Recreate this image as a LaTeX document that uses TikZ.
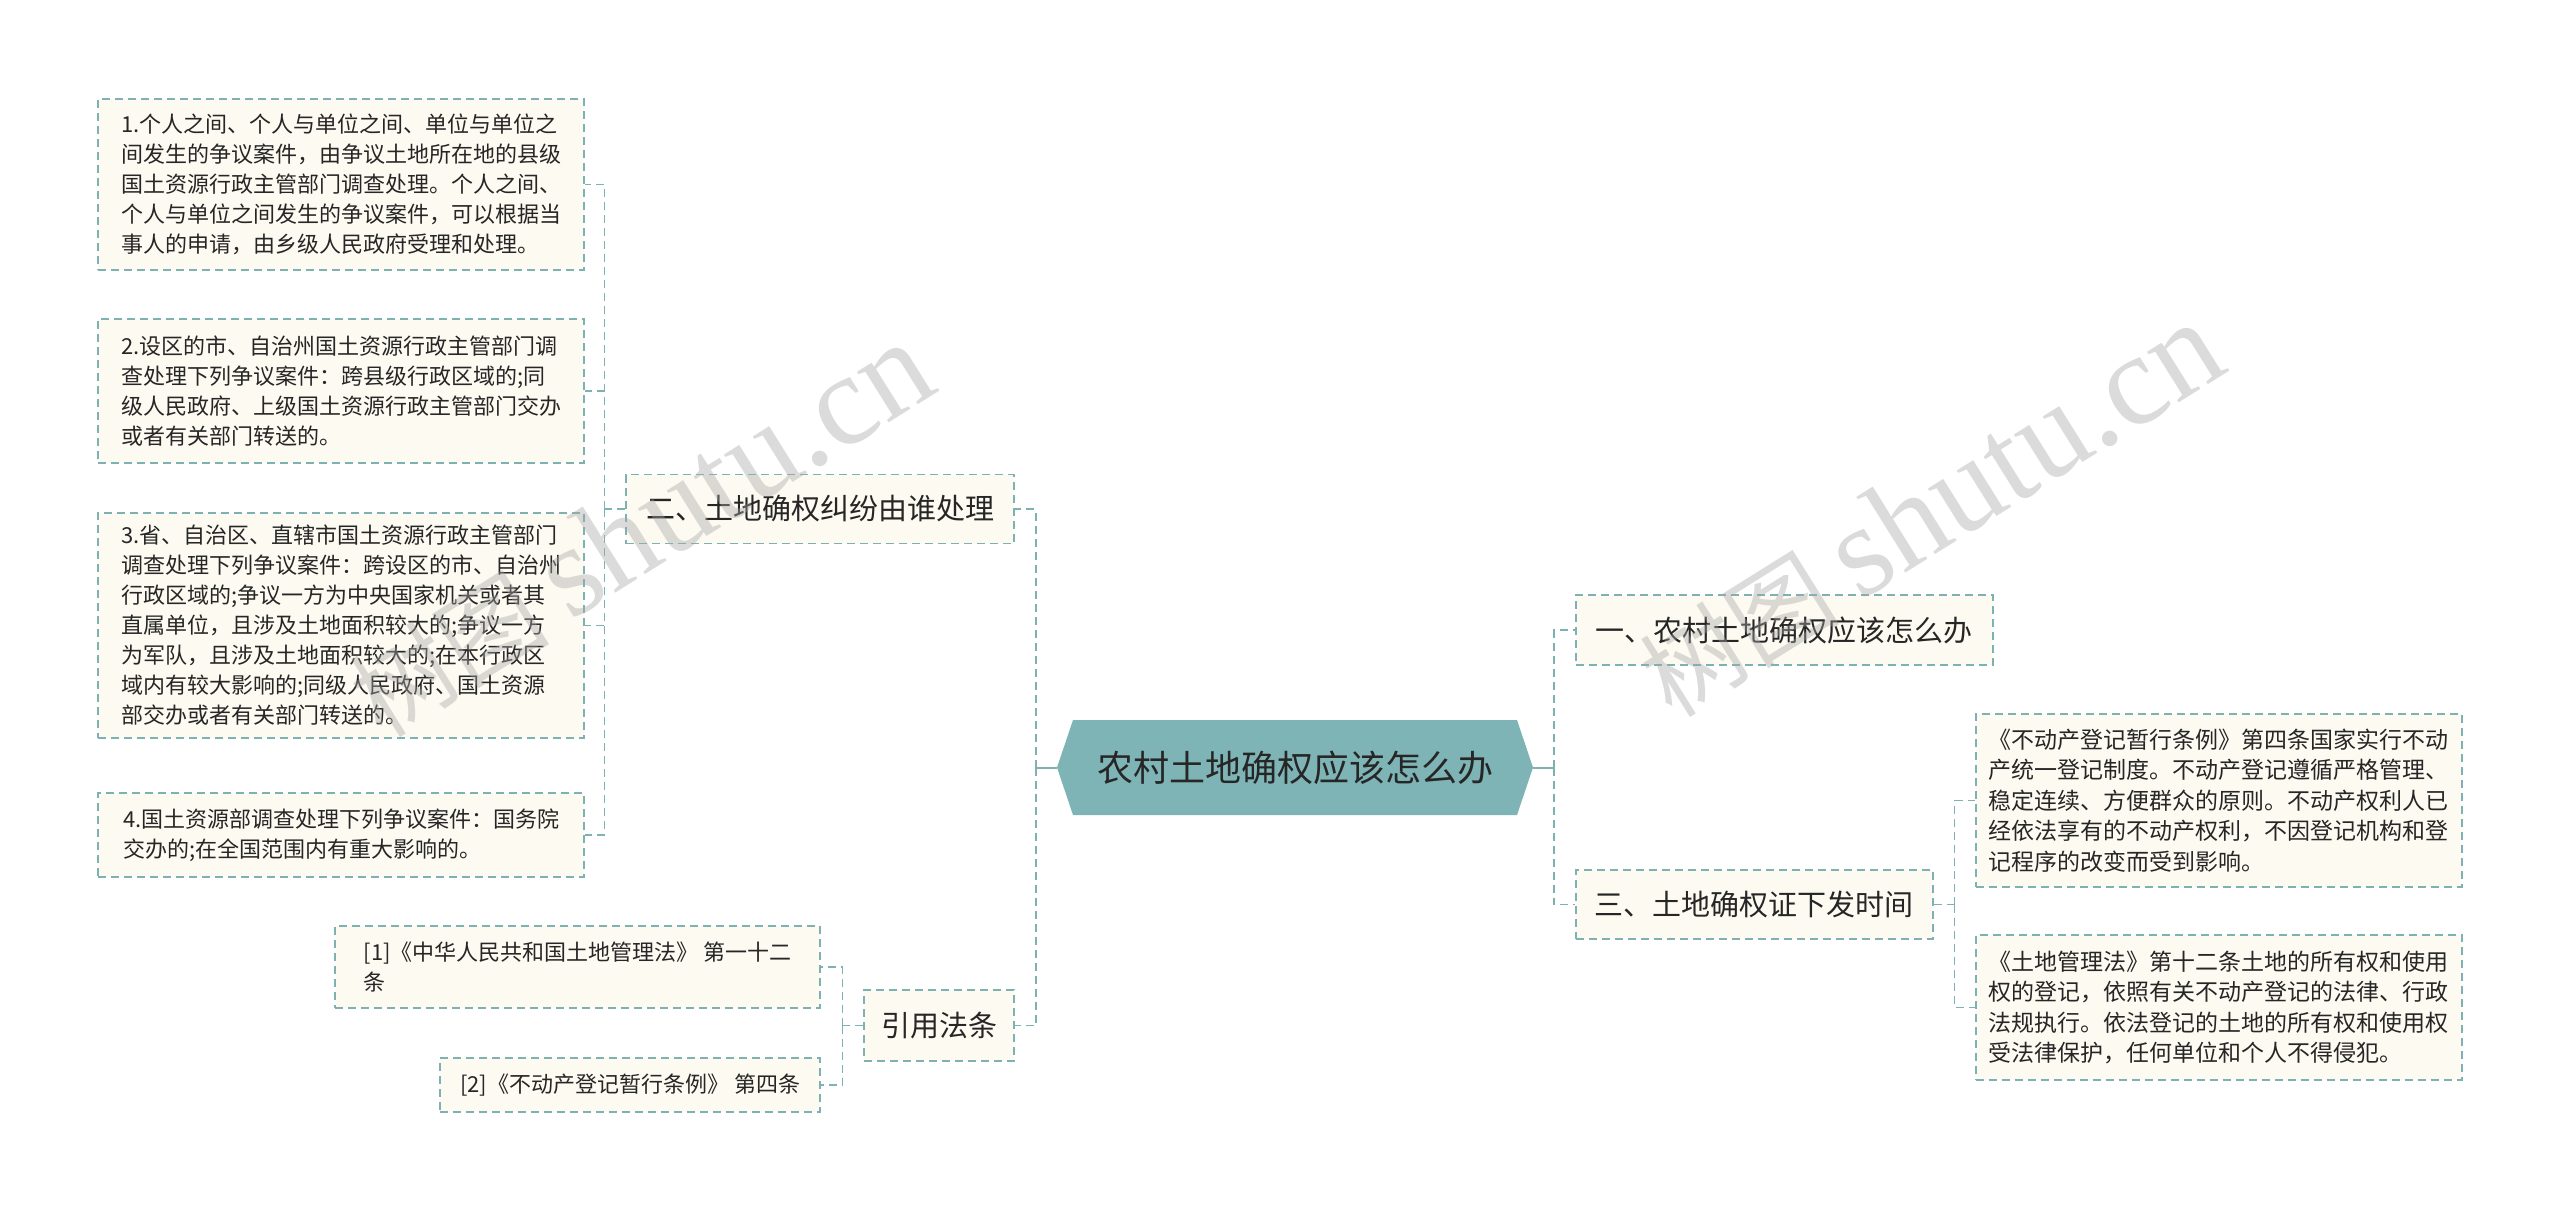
\documentclass[tikz,border=0pt]{standalone}
\usepackage{fontspec}
\setmainfont{Noto Sans CJK SC}
\newfontfamily\wmlatin{Liberation Serif}
\usepackage{tikz,xcolor}
\usetikzlibrary{positioning}
\definecolor{lineteal}{HTML}{7DB1B2}
\definecolor{hexfill}{HTML}{7EB4B5}
\definecolor{boxfill}{HTML}{FCFAF1}
\definecolor{txtdark}{HTML}{262626}

\begin{document}
\begin{tikzpicture}[x=1pt,y=-1pt,
  link/.style={draw=lineteal,line width=1.6pt,dash pattern=on 8pt off 5pt},
  stub/.style={draw=lineteal,line width=2pt},
  topic/.style={link,fill=boxfill,text=txtdark,font=\fontsize{29pt}{34pt}\selectfont,
    minimum height=69pt,inner xsep=16pt,inner ysep=0pt},
  leaf/.style={link,fill=boxfill,text=txtdark,font=\fontsize{22pt}{30pt}\selectfont,
    align=left,inner xsep=11pt,inner ysep=10pt},
  lawleaf/.style={leaf,font=\fontsize{23pt}{30.5pt}\selectfont},
  wmark/.style={text=black!35,opacity=0.4,rotate=32,font=\fontsize{100pt}{100pt}\selectfont}]
  \useasboundingbox[fill=white] (0,0) rectangle (2560,1209);

  \fill[hexfill] (1057,767.5) -- (1073,720) -- (1517,720) -- (1533,767.5) -- (1517,815) -- (1073,815) -- cycle;
  \node[minimum width=476pt,minimum height=95pt,inner sep=0pt,text=txtdark,
    font=\fontsize{36pt}{40pt}\selectfont] (root) at (1295,767.5) {农村土地确权应该怎么办};

  \node[topic,anchor=east,minimum width=388pt] (twoN) at (1015,509) {二、土地确权纠纷由谁处理};
  \node[topic,anchor=east,minimum width=150pt,minimum height=71pt] (citeN) at (1015,1025.5) {引用法条};
  \node[topic,anchor=west,minimum width=417pt,minimum height=70pt] (oneN) at (1575,630) {一、农村土地确权应该怎么办};
  \node[topic,anchor=west,minimum width=357pt] (threeN) at (1575,904.5) {三、土地确权证下发时间};

  \node[leaf,anchor=east,minimum width=486pt,minimum height=171pt] (qa) at (585,184.5) {1.个人之间、个人与单位之间、单位与单位之\\间发生的争议案件，由争议土地所在地的县级\\国土资源行政主管部门调查处理。个人之间、\\个人与单位之间发生的争议案件，可以根据当\\事人的申请，由乡级人民政府受理和处理。};
  \node[leaf,anchor=east,minimum width=486pt,minimum height=144pt] (qb) at (585,391) {2.设区的市、自治州国土资源行政主管部门调\\查处理下列争议案件：跨县级行政区域的;同\\级人民政府、上级国土资源行政主管部门交办\\或者有关部门转送的。};
  \node[leaf,anchor=east,minimum width=486pt,minimum height=225pt] (qc) at (585,625.5) {3.省、自治区、直辖市国土资源行政主管部门\\调查处理下列争议案件：跨设区的市、自治州\\行政区域的;争议一方为中央国家机关或者其\\直属单位，且涉及土地面积较大的;争议一方\\为军队，且涉及土地面积较大的;在本行政区\\域内有较大影响的;同级人民政府、国土资源\\部交办或者有关部门转送的。};
  \node[leaf,anchor=east,minimum width=486pt,minimum height=84pt] (qd) at (585,835) {4.国土资源部调查处理下列争议案件：国务院\\交办的;在全国范围内有重大影响的。};

  \node[leaf,anchor=east,minimum width=485pt,minimum height=82pt] (refa) at (821,967) {[1]《中华人民共和国土地管理法》 第一十二\\条};
  \node[leaf,anchor=east,minimum width=380pt,minimum height=54pt] (refb) at (821,1085) {[2]《不动产登记暂行条例》 第四条};

  \node[lawleaf,anchor=west,minimum width=486pt,minimum height=173pt] (lawa) at (1975,800.5) {《不动产登记暂行条例》第四条国家实行不动\\产统一登记制度。不动产登记遵循严格管理、\\稳定连续、方便群众的原则。不动产权利人已\\经依法享有的不动产权利，不因登记机构和登\\记程序的改变而受到影响。};
  \node[lawleaf,anchor=west,minimum width=486pt,minimum height=145pt] (lawb) at (1975,1007.5) {《土地管理法》第十二条土地的所有权和使用\\权的登记，依照有关不动产登记的法律、行政\\法规执行。依法登记的土地的所有权和使用权\\受法律保护，任何单位和个人不得侵犯。};

  \draw[stub] (root.west) -- ++(-21,0) coordinate (lsplit);
  \draw[link] (lsplit) |- (twoN.east);
  \draw[link] (lsplit) |- (citeN.east);
  \draw[stub] (root.east) -- ++(21,0) coordinate (rsplit);
  \draw[link] (rsplit) |- (oneN.west);
  \draw[link] (rsplit) |- (threeN.west);

  \draw[link] (twoN.west) -- ++(-21,0) coordinate (twosplit);
  \foreach \q in {qa,qb,qc,qd}
    \draw[link] (twosplit) |- (\q.east);
  \draw[link] (citeN.west) -- ++(-21,0) coordinate (citesplit);
  \foreach \q in {refa,refb}
    \draw[link] (citesplit) |- (\q.east);
  \draw[link] (threeN.east) -- ++(21,0) coordinate (threesplit);
  \foreach \q in {lawa,lawb}
    \draw[link] (threesplit) |- (\q.west);

  \node[wmark] (wmleft) at (640,530) {树图 {\wmlatin\fontsize{130pt}{130pt}\selectfont shutu.cn}};
  \node[wmark] (wmright) at (1930,510) {树图 {\wmlatin\fontsize{130pt}{130pt}\selectfont shutu.cn}};
\end{tikzpicture}
\end{document}
